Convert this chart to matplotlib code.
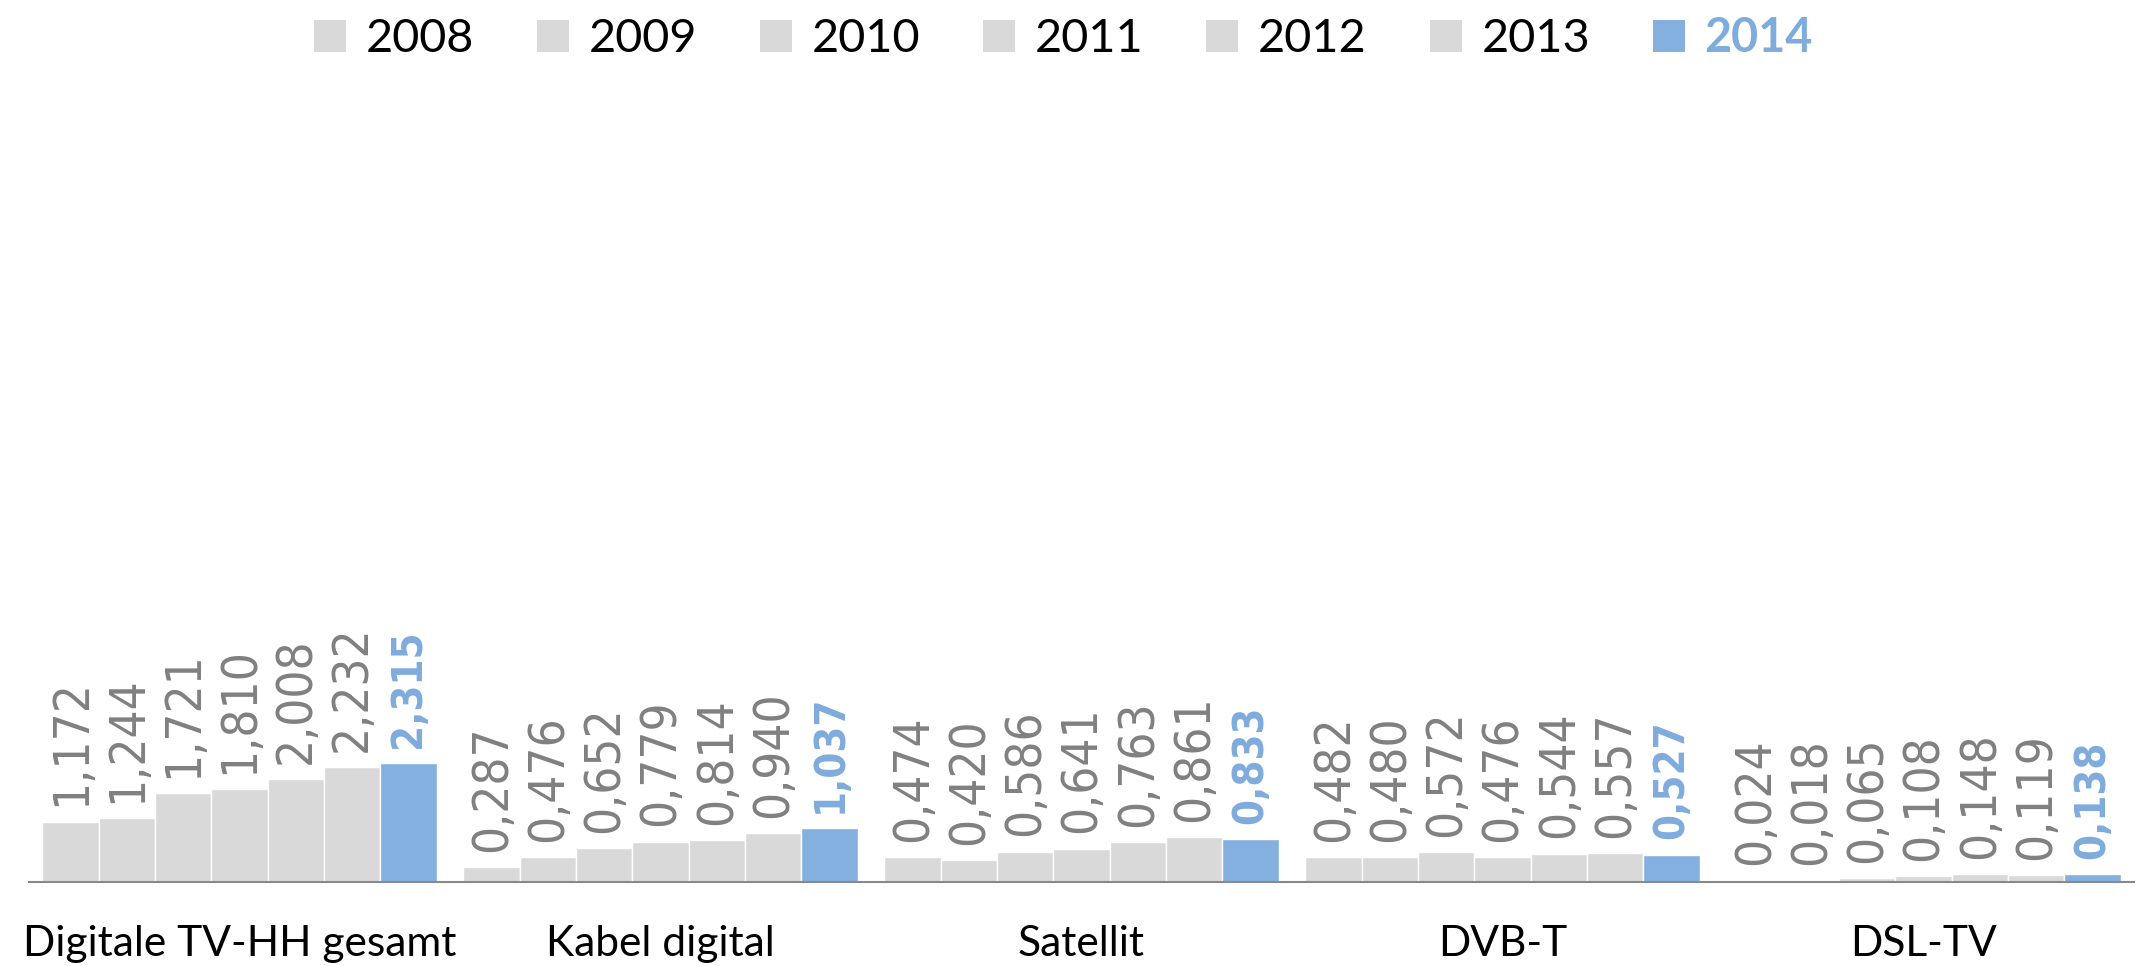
import matplotlib
matplotlib.use("Agg")
import matplotlib.pyplot as plt
from matplotlib.patches import Patch
import numpy as np

categories = ["Digitale TV-HH gesamt", "Kabel digital", "Satellit", "DVB-T", "DSL-TV"]
years = ["2008", "2009", "2010", "2011", "2012", "2013", "2014"]
v2008 = [1.172, 0.287, 0.474, 0.482, 0.024]
v2009 = [1.244, 0.476, 0.420, 0.480, 0.018]
v2010 = [1.721, 0.652, 0.586, 0.572, 0.065]
v2011 = [1.810, 0.779, 0.641, 0.476, 0.108]
v2012 = [2.008, 0.814, 0.763, 0.544, 0.148]
v2013 = [2.232, 0.940, 0.861, 0.557, 0.119]
v2014 = [2.315, 1.037, 0.833, 0.527, 0.138]
series = [v2008, v2009, v2010, v2011, v2012, v2013, v2014]

GREY = "#d9d9d9"
BLUE = "#84b0df"
LABEL_GREY = "#808080"
LABEL_BLUE = "#7eacdd"

W, H = 2147, 966
fig = plt.figure(figsize=(W / 100, H / 100), dpi=100)
ax_left, ax_right = 29, 2134
ax_bottom_px = 84.5
ax_h_px = 780
ax = fig.add_axes([ax_left / W, ax_bottom_px / H, (ax_right - ax_left) / W, ax_h_px / H])

x = np.arange(len(categories))
bw = 0.1337
n = len(series)
for i, vals in enumerate(series):
    pos = x + (i - (n - 1) / 2) * bw
    last = i == n - 1
    ax.bar(pos, vals, width=bw, color=BLUE if last else GREY,
           edgecolor="white", linewidth=1.0, zorder=2)
    for px, v in zip(pos, vals):
        ax.annotate(f"{v:.3f}".replace(".", ","), xy=(px, v), xytext=(0, 11),
                    textcoords="offset points", rotation=90, ha="center", va="bottom",
                    color=LABEL_BLUE if last else LABEL_GREY,
                    fontsize=30 if last else 35.5,
                    fontweight="bold" if last else "normal",
                    family="DejaVu Sans", fontstretch="condensed", zorder=3)

ax.set_xlim(-0.5, len(categories) - 0.5)
ax.set_ylim(0, ax_h_px / 51.15)
for s in ["top", "right", "left"]:
    ax.spines[s].set_visible(False)
ax.spines["bottom"].set_color("#898989")
ax.spines["bottom"].set_linewidth(1.5)
ax.spines["bottom"].set_zorder(4)
ax.set_yticks([])
ax.set_xticks(x)
ax.set_xticklabels(categories, fontsize=30.6, family="Lato", color="black")
ax.tick_params(axis="x", length=0, pad=53.6)
for t in ax.get_xticklabels():
    t.set_va("baseline")
ax.set_facecolor("white")

handles = [Patch(facecolor=BLUE if y == "2014" else GREY, edgecolor="none") for y in years]
leg = fig.legend(handles, years, loc="center", bbox_to_anchor=(1063.5 / W, 1 - 38.5 / H),
                 ncol=7, frameon=False, prop={"family": "Lato", "size": 33.7},
                 handlelength=0.68, handleheight=0.66, handletextpad=0.42,
                 columnspacing=1.35, borderaxespad=0, borderpad=0)
for t in leg.get_texts():
    if t.get_text() == "2014":
        t.set_color(LABEL_BLUE)
        t.set_fontweight("bold")

fig.savefig("out.png", dpi=100, facecolor="white")
